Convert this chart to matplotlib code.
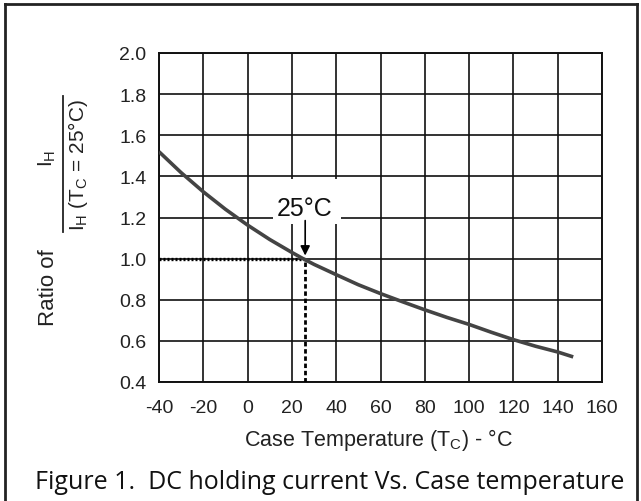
import matplotlib
matplotlib.use('Agg')
import matplotlib.pyplot as plt
from matplotlib.lines import Line2D
from matplotlib.patches import Rectangle
from matplotlib import font_manager

# ---- data ----
temps = [-40, -30, -20, -10, 0, 10, 20, 25, 30, 40, 50, 60, 70, 80, 90, 100, 110, 120, 130, 140, 147]
ratio = [1.52, 1.418, 1.325, 1.240, 1.163, 1.093, 1.030, 1.0, 0.972, 0.922, 0.873, 0.830, 0.790,
         0.751, 0.714, 0.680, 0.642, 0.606, 0.574, 0.546, 0.522]
x_ticks = [-40, -20, 0, 20, 40, 60, 80, 100, 120, 140, 160]
y_ticks = [0.4, 0.6, 0.8, 1.0, 1.2, 1.4, 1.6, 1.8, 2.0]
ref_temp = 26
ref_ratio = 1.0

available = {f.name for f in font_manager.fontManager.ttflist}
narrow = 'Liberation Sans Narrow' if 'Liberation Sans Narrow' in available else 'Liberation Sans'
caption_font = 'Open Sans' if 'Open Sans' in available else 'DejaVu Sans'

plt.rcParams['mathtext.fontset'] = 'custom'
plt.rcParams['mathtext.rm'] = narrow
plt.rcParams['mathtext.sf'] = 'Liberation Sans'

W, H = 641, 502
fig = plt.figure(figsize=(W / 100, H / 100), dpi=100)


def fx(x):
    return x / W


def fy(y):
    return 1 - y / H


ax = fig.add_axes([fx(159), fy(383), fx(602) - fx(159), fy(54) - fy(383)])
ax.set_xlim(-40, 160)
ax.set_ylim(0.4, 2.0)
ax.set_xticks(x_ticks)
ax.set_yticks(y_ticks)
ax.set_xticklabels([str(t) for t in x_ticks])
ax.set_yticklabels([f'{t:.1f}' for t in y_ticks])
ax.tick_params(length=0, labelsize=14, colors='#222222')
ax.tick_params(axis='x', pad=12)
ax.tick_params(axis='y', pad=9)
for lab in ax.get_xticklabels() + ax.get_yticklabels():
    lab.set_fontfamily(narrow)

# grid
for t in x_ticks:
    ax.axvline(t, color='#111111', lw=1.2, zorder=1)
for t in y_ticks:
    ax.axhline(t, color='#111111', lw=1.2, zorder=1)
for s in ax.spines.values():
    s.set_linewidth(1.4)
    s.set_color('#111111')

# white box behind label
ax.add_patch(Rectangle((11.5, 1.168), 30.5, 0.22, facecolor='white', edgecolor='none', zorder=2))

# curve
ax.plot(temps, ratio, color='#444444', lw=2.6, zorder=4, solid_capstyle='butt')

# reference lines
ax.plot([-40, ref_temp], [ref_ratio, ref_ratio], color='black', lw=2.4,
        linestyle=(0, (0.6, 0.6)), zorder=3)
ax.plot([ref_temp, ref_temp], [0.4, ref_ratio], color='black', lw=2.0,
        linestyle=(0, (1.6, 1.0)), zorder=3)

ax.text(25.8, 1.245, '25°C', ha='center', va='center', fontsize=18,
        family='Liberation Sans', color='#111111', zorder=5)
ax.annotate('', xy=(ref_temp, 1.015), xytext=(ref_temp, 1.185),
            arrowprops=dict(arrowstyle='-|>', color='black', lw=1.2,
                            mutation_scale=14, shrinkA=0, shrinkB=0), zorder=5)

# axis label
fig.text(fx(378), fy(440), r'Case Temperature (T$_\mathregular{C}$) - °C', ha='center', va='center',
         fontsize=15.5, family=narrow, color='#222222')

# y label: "Ratio of" + fraction
fig.text(fx(48), fy(288), 'Ratio of', rotation=90, ha='center', va='center',
         fontsize=16, family='Liberation Sans', color='#222222')
fig.text(fx(47), fy(158), r'$\mathsf{I_H}$', rotation=90, ha='center', va='center',
         fontsize=15, family='Liberation Sans', color='#222222')
fig.add_artist(Line2D([fx(63), fx(63)], [fy(97), fy(233)], color='#222222', lw=1.3))
fig.text(fx(78), fy(165), r'$\mathsf{I_H}$ (T$\mathsf{_C}$ = 25°C)', rotation=90, ha='center', va='center',
         fontsize=15, family='Liberation Sans', color='#222222')

# caption
fig.text(fx(330), fy(489), 'Figure 1.  DC holding current Vs. Case temperature', ha='center', va='baseline',
         fontsize=18, family=caption_font, color='#111111')

# outer frame
fig.add_artist(Line2D([fx(5), fx(5)], [fy(5), fy(502)], color='#222222', lw=2))
fig.add_artist(Line2D([fx(5), fx(637)], [fy(5), fy(5)], color='#222222', lw=2))
fig.add_artist(Line2D([fx(637), fx(637)], [fy(5), fy(502)], color='#222222', lw=2))

fig.savefig('out.png', dpi=100)
